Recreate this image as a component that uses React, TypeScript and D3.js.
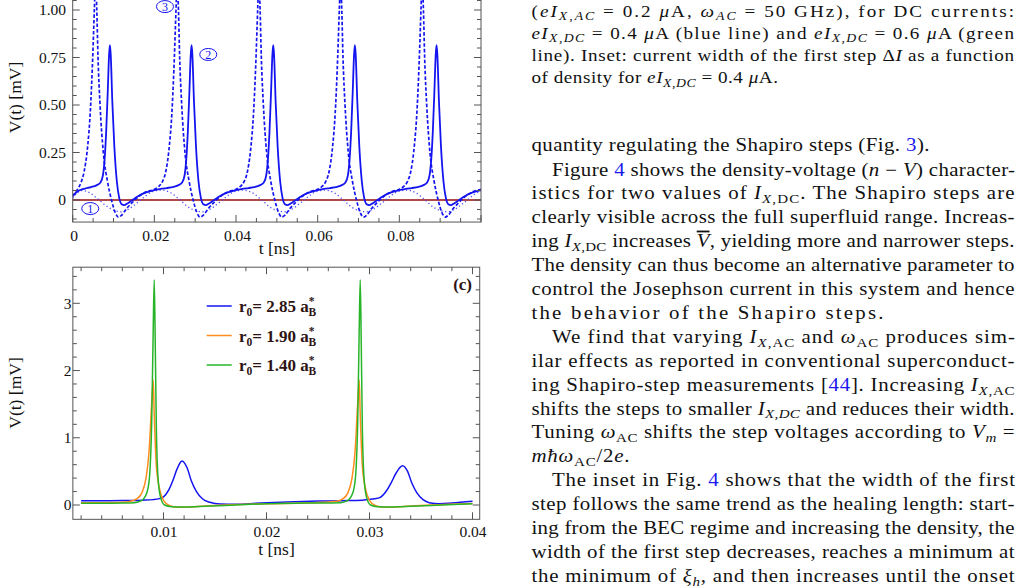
import React from "react";
import * as d3 from "d3";

type Pt = [number, number];

// ---- panel (b): V(t) [mV] vs t [ns] ----
const solidTrace: Pt[] = [
  [0, 0.022], [0.001, 0.042], [0.002, 0.054], [0.003, 0.06], [0.0045, 0.068], [0.0058, 0.077], [0.0068, 0.092], [0.0074, 0.13], [0.0078, 0.21], [0.0082, 0.36], [0.0086, 0.58], [0.0089, 0.76], [0.0091, 0.815], [0.0093, 0.77], [0.0097, 0.52], [0.0102, 0.28], [0.0108, 0.1], [0.0114, 0.01], [0.012, -0.022], [0.0126, -0.027], [0.0134, -0.018], [0.0145, -0.002], [0.016, 0.02], [0.018, 0.04],
  [0.02, 0.052], [0.0215, 0.058], [0.023, 0.063], [0.0245, 0.068], [0.0258, 0.077], [0.0268, 0.092], [0.0274, 0.13], [0.0278, 0.21], [0.0282, 0.36], [0.0286, 0.58], [0.0289, 0.76], [0.0291, 0.815], [0.0293, 0.77], [0.0297, 0.52], [0.0302, 0.28], [0.0308, 0.1], [0.0314, 0.01], [0.032, -0.022], [0.0326, -0.027], [0.0334, -0.018], [0.0345, -0.002], [0.036, 0.02], [0.038, 0.04],
  [0.04, 0.052], [0.0415, 0.058], [0.043, 0.063], [0.0445, 0.068], [0.0458, 0.077], [0.0468, 0.092], [0.0474, 0.13], [0.0478, 0.21], [0.0482, 0.36], [0.0486, 0.58], [0.0489, 0.76], [0.0491, 0.815], [0.0493, 0.77], [0.0497, 0.52], [0.0502, 0.28], [0.0508, 0.1], [0.0514, 0.01], [0.052, -0.022], [0.0526, -0.027], [0.0534, -0.018], [0.0545, -0.002], [0.056, 0.02], [0.058, 0.04],
  [0.06, 0.052], [0.0615, 0.058], [0.063, 0.063], [0.0645, 0.068], [0.0658, 0.077], [0.0668, 0.092], [0.0674, 0.13], [0.0678, 0.21], [0.0682, 0.36], [0.0686, 0.58], [0.0689, 0.76], [0.0691, 0.815], [0.0693, 0.77], [0.0697, 0.52], [0.0702, 0.28], [0.0708, 0.1], [0.0714, 0.01], [0.072, -0.022], [0.0726, -0.027], [0.0734, -0.018], [0.0745, -0.002], [0.076, 0.02], [0.078, 0.04],
  [0.08, 0.052], [0.0815, 0.058], [0.083, 0.063], [0.0845, 0.068], [0.0858, 0.077], [0.0868, 0.092], [0.0874, 0.13], [0.0878, 0.21], [0.0882, 0.36], [0.0886, 0.58], [0.0889, 0.76], [0.0891, 0.815], [0.0893, 0.77], [0.0897, 0.52], [0.0902, 0.28], [0.0908, 0.1], [0.0914, 0.01], [0.092, -0.022], [0.0926, -0.027], [0.0934, -0.018], [0.0945, -0.002], [0.096, 0.02], [0.098, 0.04], [0.1, 0.052],
];

const dashedTrace: Pt[] = [
  [0, 0.02], [0.001, 0.05], [0.002, 0.09], [0.0028, 0.15], [0.0035, 0.25], [0.0044, 0.5], [0.0049, 0.75], [0.0053, 1.0], [0.0056, 1.16], [0.0059, 1.0], [0.0062, 0.75], [0.0067, 0.5], [0.0075, 0.25], [0.0085, 0.1], [0.0095, 0.0], [0.0104, -0.065], [0.0112, -0.09], [0.012, -0.08], [0.0132, -0.045], [0.0145, -0.015], [0.0157, 0.01], [0.0181, 0.044],
  [0.02, 0.056], [0.021, 0.07], [0.022, 0.098], [0.0228, 0.15], [0.0235, 0.25], [0.0244, 0.5], [0.0249, 0.75], [0.0253, 1.0], [0.0256, 1.16], [0.0259, 1.0], [0.0262, 0.75], [0.0267, 0.5], [0.0275, 0.25], [0.0285, 0.1], [0.0295, 0.0], [0.0304, -0.065], [0.0312, -0.09], [0.032, -0.08], [0.0332, -0.045], [0.0345, -0.015], [0.0357, 0.01], [0.0381, 0.044],
  [0.04, 0.056], [0.041, 0.07], [0.042, 0.098], [0.0428, 0.15], [0.0435, 0.25], [0.0444, 0.5], [0.0449, 0.75], [0.0453, 1.0], [0.0456, 1.16], [0.0459, 1.0], [0.0462, 0.75], [0.0467, 0.5], [0.0475, 0.25], [0.0485, 0.1], [0.0495, 0.0], [0.0504, -0.065], [0.0512, -0.09], [0.052, -0.08], [0.0532, -0.045], [0.0545, -0.015], [0.0557, 0.01], [0.0581, 0.044],
  [0.06, 0.056], [0.061, 0.07], [0.062, 0.098], [0.0628, 0.15], [0.0635, 0.25], [0.0644, 0.5], [0.0649, 0.75], [0.0653, 1.0], [0.0656, 1.16], [0.0659, 1.0], [0.0662, 0.75], [0.0667, 0.5], [0.0675, 0.25], [0.0685, 0.1], [0.0695, 0.0], [0.0704, -0.065], [0.0712, -0.09], [0.072, -0.08], [0.0732, -0.045], [0.0745, -0.015], [0.0757, 0.01], [0.0781, 0.044],
  [0.08, 0.056], [0.081, 0.07], [0.082, 0.098], [0.0828, 0.15], [0.0835, 0.25], [0.0844, 0.5], [0.0849, 0.75], [0.0853, 1.0], [0.0856, 1.16], [0.0859, 1.0], [0.0862, 0.75], [0.0867, 0.5], [0.0875, 0.25], [0.0885, 0.1], [0.0895, 0.0], [0.0904, -0.065], [0.0912, -0.09], [0.092, -0.08], [0.0932, -0.045], [0.0945, -0.015], [0.0957, 0.01], [0.0981, 0.044], [0.1, 0.056],
];

const dottedTrace: Pt[] = [
  [0, 0.01], [0.001, 0.035], [0.0022, 0.05], [0.004, 0.04], [0.006, 0.008], [0.0085, -0.035], [0.0105, -0.057], [0.0118, -0.062], [0.0135, -0.05], [0.0155, -0.02], [0.0175, 0.015], [0.0195, 0.044],
  [0.0218, 0.052], [0.024, 0.038], [0.0263, 0.0], [0.0285, -0.04], [0.0305, -0.058], [0.0318, -0.062], [0.0335, -0.05], [0.0355, -0.02], [0.0375, 0.015], [0.0395, 0.043],
  [0.0418, 0.052], [0.044, 0.038], [0.0463, 0.0], [0.0485, -0.04], [0.0505, -0.058], [0.0518, -0.062], [0.0535, -0.05], [0.0555, -0.02], [0.0575, 0.015], [0.0595, 0.043],
  [0.0618, 0.052], [0.064, 0.038], [0.0663, 0.0], [0.0685, -0.04], [0.0705, -0.058], [0.0718, -0.062], [0.0735, -0.05], [0.0755, -0.02], [0.0775, 0.015], [0.0795, 0.043],
  [0.0818, 0.052], [0.084, 0.038], [0.0863, 0.0], [0.0885, -0.04], [0.0905, -0.058], [0.0918, -0.062], [0.0935, -0.05], [0.0955, -0.02], [0.0975, 0.015], [0.0995, 0.043], [0.1, 0.046],
];

const zeroTrace: Pt[] = [[0, 0], [0.1, 0]];

const topXTicks = [0, 0.02, 0.04, 0.06, 0.08];
const topXLabels = ["0", "0.02", "0.04", "0.06", "0.08"];
const topYTicks = [0, 0.25, 0.5, 0.75, 1.0];
const topYLabels = ["0", "0.25", "0.50", "0.75", "1.00"];

// ---- panel (c) ----
const r285: Pt[] = [
  [0.002, 0.062], [0.004, 0.063], [0.006, 0.066], [0.008, 0.072], [0.009, 0.08], [0.0096, 0.095], [0.01, 0.12], [0.0105, 0.22], [0.0109, 0.36], [0.0113, 0.53], [0.0118, 0.655], [0.0123, 0.55], [0.0127, 0.36], [0.0132, 0.2], [0.0138, 0.09], [0.0145, 0.04], [0.0155, 0.015], [0.017, 0.012], [0.019, 0.025], [0.022, 0.045], [0.025, 0.058], [0.028, 0.066],
  [0.0295, 0.075], [0.0305, 0.092], [0.031, 0.11], [0.0316, 0.2], [0.0321, 0.33], [0.0326, 0.48], [0.0332, 0.585], [0.0337, 0.5], [0.0341, 0.33], [0.0346, 0.18], [0.0352, 0.08], [0.0358, 0.035], [0.0368, 0.02], [0.038, 0.03], [0.04, 0.056],
];
const r190: Pt[] = [
  [0.002, 0.033], [0.004, 0.034], [0.006, 0.04], [0.0068, 0.055], [0.0074, 0.09], [0.0079, 0.18], [0.0083, 0.4], [0.0086, 0.8], [0.00885, 1.5], [0.009, 1.86], [0.0091, 1.35], [0.0093, 0.6], [0.0096, 0.25], [0.01, 0.07], [0.0106, -0.01], [0.0115, -0.035], [0.013, -0.025], [0.016, 0.0], [0.02, 0.02], [0.024, 0.03],
  [0.0268, 0.055], [0.0274, 0.09], [0.0279, 0.18], [0.0283, 0.4], [0.0286, 0.8], [0.02885, 1.5], [0.029, 1.86], [0.0291, 1.35], [0.0293, 0.6], [0.0296, 0.25], [0.03, 0.07], [0.0306, -0.01], [0.0315, -0.035], [0.033, -0.025], [0.036, 0.0], [0.04, 0.022],
];
const r140: Pt[] = [
  [0.002, 0.025], [0.004, 0.026], [0.006, 0.028], [0.0072, 0.035], [0.0078, 0.06], [0.0082, 0.12], [0.0085, 0.25], [0.0087, 0.55], [0.00885, 1.2], [0.009, 2.6], [0.0091, 3.35], [0.0092, 2.4], [0.0093, 1.2], [0.00945, 0.45], [0.0097, 0.12], [0.0101, 0.0], [0.0108, -0.025], [0.012, -0.03], [0.014, -0.02], [0.017, 0.0], [0.02, 0.02], [0.024, 0.028],
  [0.0272, 0.035], [0.0278, 0.06], [0.0282, 0.12], [0.0285, 0.25], [0.0287, 0.55], [0.02885, 1.2], [0.029, 2.6], [0.0291, 3.35], [0.0292, 2.4], [0.0293, 1.2], [0.02945, 0.45], [0.0297, 0.12], [0.0301, 0.0], [0.0308, -0.025], [0.032, -0.03], [0.034, -0.02], [0.037, 0.0], [0.04, 0.02],
];
const bottomXTicks = [0.01, 0.02, 0.03, 0.04];
const bottomXLabels = ["0.01", "0.02", "0.03", "0.04"];
const bottomYTicks = [0, 1, 2, 3];
const legendRadii = ["2.85", "1.90", "1.40"];
const seriesColors = ["#1414f0", "#ff8c1e", "#28b428"];

// ---- text column ----
type Seg = [string, string?];
const captionLines: Seg[][] = [
  [["("], ["eI", "i"], ["X,AC", "si"], [" = 0.2 "], ["μ", "i"], ["A, "], ["ω", "i"], ["AC", "si"], [" = 50 GHz), for DC currents:"]],
  [["eI", "i"], ["X,DC", "si"], [" = 0.4 "], ["μ", "i"], ["A (blue line) and "], ["eI", "i"], ["X,DC", "si"], [" = 0.6 "], ["μ", "i"], ["A (green"]],
  [["line). Inset: current width of the first step Δ"], ["I", "i"], [" as a function"]],
  [["of density for "], ["eI", "i"], ["X,DC", "si"], [" = 0.4 "], ["μ", "i"], ["A."]],
];
const captionWidths = [482.5, 482.5, 482.5, 246.5];

const bodyLines: Seg[][] = [
  [["quantity regulating the Shapiro steps (Fig. "], ["3", "l"], [")."]],
  [["Figure "], ["4", "l"], [" shows the density-voltage ("], ["n", "i"], [" − "], ["V", "i"], [") character-"]],
  [["istics for two values of "], ["I", "i"], ["X,", "si"], ["DC", "sr"], [". The Shapiro steps are"]],
  [["clearly visible across the full superfluid range. Increas-"]],
  [["ing "], ["I", "i"], ["X,", "si"], ["DC", "sr"], [" increases "], ["V", "o"], [", yielding more and narrower steps."]],
  [["The density can thus become an alternative parameter to"]],
  [["control the Josephson current in this system and hence"]],
  [["the behavior of the Shapiro steps."]],
  [["We find that varying "], ["I", "i"], ["X,", "si"], ["AC", "sr"], [" and "], ["ω", "i"], ["AC", "sr"], [" produces sim-"]],
  [["ilar effects as reported in conventional superconduct-"]],
  [["ing Shapiro-step measurements ["], ["44", "l"], ["]. Increasing "], ["I", "i"], ["X,", "si"], ["AC", "sr"]],
  [["shifts the steps to smaller "], ["I", "i"], ["X,DC", "si"], [" and reduces their width."]],
  [["Tuning "], ["ω", "i"], ["AC", "sr"], [" shifts the step voltages according to "], ["V", "i"], ["m", "si"], [" ="]],
  [["mħω", "i"], ["AC", "sr"], ["/2"], ["e", "i"], ["."]],
  [["The inset in Fig. "], ["4", "l"], [" shows that the width of the first"]],
  [["step follows the same trend as the healing length: start-"]],
  [["ing from the BEC regime and increasing the density, the"]],
  [["width of the first step decreases, reaches a minimum at"]],
  [["the minimum of "], ["ξ", "i"], ["h", "si"], [", and then increases until the onset"]],
];
const bodyIndent = [0, 1, 0, 0, 0, 0, 0, 0, 1, 0, 0, 0, 0, 0, 1, 0, 0, 0, 0];
const bodyWidths = [398, 463, 483, 483, 483, 483, 483, 352, 463, 483, 483, 483, 483, 98, 463, 483, 483, 483, 483];

const SERIF = "Liberation Serif, Times New Roman, serif";
const WIDEN = 1.16;

function TextLine({x, y, w, size, segs}: {x: number; y: number; w: number; size: number; segs: Seg[]}) {
  let shift = 0;
  const kids = segs.map(([t, s = "r"], i) => {
    const sub = s === "si" || s === "sr";
    const target = sub ? size * 0.22 : 0;
    const dy = target - shift;
    shift = target;
    return (
      <tspan key={i} dy={dy}
             fontStyle={s === "i" || s === "si" || s === "o" ? "italic" : undefined}
             fontSize={sub ? size * 0.72 : undefined}
             fill={s === "l" ? "#1a1aee" : undefined}
             textDecoration={s === "o" ? "overline" : undefined}>{t}</tspan>
    );
  });
  return (
    <text transform={`translate(${x},${y}) scale(${WIDEN},1)`} x={0} y={0} fontFamily={SERIF}
          fontSize={size} fill="#111" textLength={w / WIDEN} lengthAdjust="spacing">{kids}</text>
  );
}

type FrameProps = {
  sx: d3.ScaleLinear<number, number>; sy: d3.ScaleLinear<number, number>;
  x0: number; x1: number; y0: number; y1: number;
  xMinor: number[]; xMajorStep: number; yMinor: number[]; yMajorStep: number;
};

const isMajor = (v: number, step: number) => Math.abs(v / step - Math.round(v / step)) < 1e-6;

function Frame({sx, sy, x0, x1, y0, y1, xMinor, xMajorStep, yMinor, yMajorStep}: FrameProps) {
  const L = sx(x0), R = sx(x1), B = sy(y0), T = sy(y1);
  const c = "#555";
  return (
    <g stroke={c} strokeWidth={1} fill="none">
      <rect x={L} y={T} width={R - L} height={B - T}/>
      {xMinor.map((v, i) => {
        const len = isMajor(v, xMajorStep) ? 7 : 4;
        const x = sx(v);
        return <g key={"x" + i}>
          <line x1={x} x2={x} y1={B} y2={B - len}/>
          <line x1={x} x2={x} y1={T} y2={T + len}/>
        </g>;
      })}
      {yMinor.map((v, i) => {
        const len = isMajor(v, yMajorStep) ? 7 : 4;
        const y = sy(v);
        return <g key={"y" + i}>
          <line x1={L} x2={L + len} y1={y} y2={y}/>
          <line x1={R} x2={R - len} y1={y} y2={y}/>
        </g>;
      })}
    </g>
  );
}

export default function App() {
  // panel (b)
  const tx = d3.scaleLinear().domain([0, 0.1]).range([72.7, 481]);
  const ty = d3.scaleLinear().domain([0, 1]).range([200, 10]);
  const tyMin = -0.116, tyMax = 1.1;
  const topLine = d3.line<Pt>().x(d => tx(d[0])).y(d => ty(d[1])).curve(d3.curveMonotoneX);

  // panel (c)
  const bx = d3.scaleLinear().domain([0.01, 0.04]).range([163.5, 472.5]);
  const by = d3.scaleLinear().domain([0, 3]).range([505, 303.3]);
  const bxMin = 0.0012, bxMax = 0.0407, byMin = -0.213, byMax = 3.537;
  const botLine = d3.line<Pt>().x(d => bx(d[0])).y(d => by(d[1])).curve(d3.curveMonotoneX);

  const topXMinor = d3.range(0, 0.1001, 0.005);
  const topYMinor = d3.range(-0.1, 1.1, 0.05);
  const botXMinor = d3.range(0.002, 0.0401, 0.002);
  const botYMinor = d3.range(0, 3.5, 0.2);

  const circled = [
    {n: "1", t: 0.0043, v: -0.045},
    {n: "2", t: 0.0332, v: 0.766},
    {n: "3", t: 0.0226, v: 1.018},
  ];

  return (
    <svg width={1028} height={588} style={{position: "absolute", left: 0, top: 0, background: "#fff"}}
         fontFamily={SERIF}>
      <defs>
        <clipPath id="clipTop">
          <rect x={tx(0)} y={ty(tyMax)} width={tx(0.1) - tx(0)} height={ty(tyMin) - ty(tyMax)}/>
        </clipPath>
        <clipPath id="clipBot">
          <rect x={bx(bxMin)} y={by(byMax)} width={bx(bxMax) - bx(bxMin)} height={by(byMin) - by(byMax)}/>
        </clipPath>
      </defs>

      {/* panel (b) */}
      <g clipPath="url(#clipTop)" fill="none">
        <path d={topLine(zeroTrace) || ""} stroke="#a0282a" strokeWidth={2.2} opacity={0.85}/>
        <path d={topLine(dottedTrace) || ""} stroke="#4a4af5" strokeWidth={1.3} strokeDasharray="1.2,2.6"/>
        <path d={topLine(dashedTrace) || ""} stroke="#1414f0" strokeWidth={1.7} strokeDasharray="3.5,2"/>
        <path d={topLine(solidTrace) || ""} stroke="#1414f0" strokeWidth={1.8}/>
      </g>
      <Frame sx={tx} sy={ty} x0={0} x1={0.1} y0={tyMin} y1={tyMax}
             xMinor={topXMinor} xMajorStep={0.02} yMinor={topYMinor} yMajorStep={0.25}/>
      {topXTicks.map((v, i) => (
        <text key={i} x={tx(v) + 1.5} y={240.5} fontSize={15.5} textAnchor="middle" fill="#111">{topXLabels[i]}</text>
      ))}
      {topYTicks.map((v, i) => (
        <text key={i} x={66} y={ty(v)} dy="0.35em" fontSize={15.5} textAnchor="end" fill="#111">{topYLabels[i]}</text>
      ))}
      <text x={277} y={254} fontSize={17.5} textAnchor="middle" fill="#111">t [ns]</text>
      <text transform={`translate(21,${97.5}) rotate(-90)`} fontSize={17.5} textAnchor="middle" fill="#111">V(t) [mV]</text>
      {circled.map(c => (
        <g key={c.n}>
          <ellipse cx={tx(c.t)} cy={ty(c.v)} rx={8.5} ry={6} fill="#fff" stroke="#1414f0" strokeWidth={1}/>
          <text x={tx(c.t)} y={ty(c.v)} dy="0.36em" fontSize={12} textAnchor="middle" fill="#1414f0">{c.n}</text>
        </g>
      ))}

      {/* panel (c) */}
      <g clipPath="url(#clipBot)" fill="none" strokeWidth={1.5}>
        <path d={botLine(r285) || ""} stroke={seriesColors[0]}/>
        <path d={botLine(r190) || ""} stroke={seriesColors[1]}/>
        <path d={botLine(r140) || ""} stroke={seriesColors[2]}/>
      </g>
      <Frame sx={bx} sy={by} x0={bxMin} x1={bxMax} y0={byMin} y1={byMax}
             xMinor={botXMinor} xMajorStep={0.01} yMinor={botYMinor} yMajorStep={1}/>
      {bottomXTicks.map((v, i) => (
        <text key={i} x={bx(v) + 0.5} y={536.5} fontSize={15.5} textAnchor="middle" fill="#111">{bottomXLabels[i]}</text>
      ))}
      {bottomYTicks.map((v, i) => (
        <text key={i} x={71.5} y={by(v)} dy="0.35em" fontSize={15.5} textAnchor="end" fill="#111">{v}</text>
      ))}
      <text x={276.5} y={555} fontSize={17.5} textAnchor="middle" fill="#111">t [ns]</text>
      <text transform={`translate(21,${393}) rotate(-90)`} fontSize={17.5} textAnchor="middle" fill="#111">V(t) [mV]</text>
      <text x={472} y={290} fontSize={17} fontWeight="bold" textAnchor="end" fill="#2e1414">(c)</text>
      {legendRadii.map((r, i) => {
        const yy = 306 + i * 29.5;
        return (
          <g key={r}>
            <line x1={206.7} x2={231.7} y1={yy} y2={yy} stroke={seriesColors[i]} strokeWidth={1.5}/>
            <text x={239} y={yy + 6} fontSize={17} fontWeight="bold" fill="#2e1414">
              r<tspan dy={4} fontSize={11.5}>0</tspan><tspan dy={-4}>= {r} a</tspan>
              <tspan dy={-7} fontSize={11.5}>*</tspan><tspan dx={-6} dy={11} fontSize={11.5}>B</tspan>
            </text>
          </g>
        );
      })}

      {/* text column */}
      {captionLines.map((segs, i) => (
        <TextLine key={"c" + i} x={531.5} y={16.5 + i * 22.3} w={captionWidths[i]} size={16.5} segs={segs}/>
      ))}
      {bodyLines.map((segs, i) => (
        <TextLine key={"b" + i} x={531.5 + bodyIndent[i] * 20.5}
                  y={i === 0 ? 150.5 : 175.5 + (i - 1) * 23.9}
                  w={bodyWidths[i]} size={18} segs={segs}/>
      ))}
    </svg>
  );
}
